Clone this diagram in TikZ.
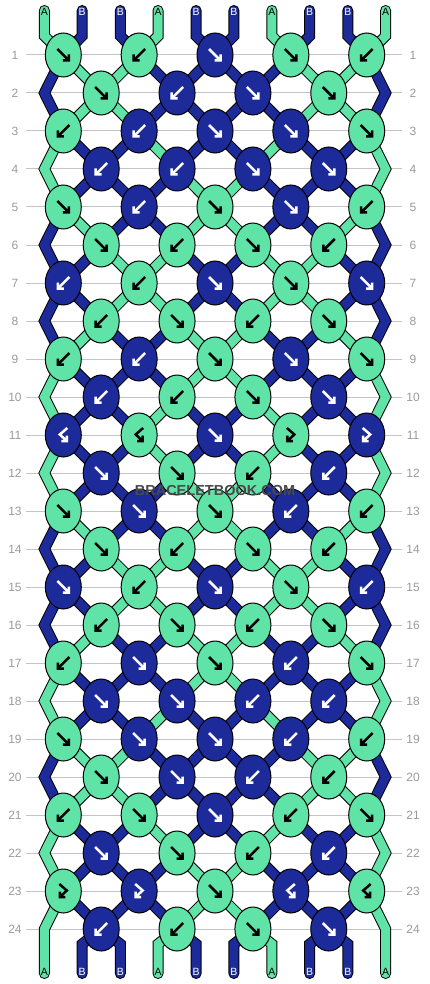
\documentclass[tikz,border=0pt]{standalone}
\usepackage{fontspec}
\setsansfont{Liberation Sans}
\usetikzlibrary{shapes.geometric}

\definecolor{colA}{HTML}{5FE3A6}
\definecolor{colB}{HTML}{1C2A9A}
\definecolor{rowgrey}{HTML}{9A9A9A}
\definecolor{linegrey}{HTML}{C4C4C4}
\definecolor{markgrey}{HTML}{4A4A4A}

\pgfdeclarelayer{grid}
\pgfdeclarelayer{threads}
\pgfsetlayers{grid,threads,main}

\def\strx{{44.4,82.2,120.3,158.0,196.1,233.9,271.9,309.7,347.8,385.6}}
\def\knotrows{{f,b,f,f,b},{f,b,f,f},{b,b,f,f,f},{b,b,f,f},
  {f,b,f,f,b},{f,b,f,b},{b,b,f,f,f},{b,f,b,f},
  {b,b,f,f,f},{b,b,f,f},{bf,bf,f,fb,fb},{f,f,b,b},
  {f,f,f,b,b},{f,b,f,b},{f,b,f,f,b},{b,f,b,f},
  {b,f,f,b,f},{f,f,b,b},{f,f,f,b,b},{f,f,b,b},
  {b,f,f,b,f},{f,f,b,b},{fb,fb,f,bf,bf},{b,b,f,f}}
\def\pickf{L}\def\pickb{R}\def\pickfb{L}\def\pickbf{R}
\def\swapf{1}\def\swapb{1}\def\swapfb{0}\def\swapbf{0}

\begin{document}
\begin{tikzpicture}[x=1pt, y=-1pt,
    knotA/.style={ellipse, draw=black, line width=1pt, fill=colA, minimum width=36pt, minimum height=44pt, inner sep=0pt},
    knotB/.style={knotA, fill=colB},
    glyphA/.style={black},
    glyphB/.style={white},
    threadA/.style={line width=1pt, double=colA, double distance=9pt, line join=miter, line cap=round},
    threadB/.style={threadA, double=colB},
    labA/.style={font=\sffamily\fontsize{10.5}{10.5}\selectfont, text=black, inner sep=0pt},
    labB/.style={labA, text=white},
    rownum/.style={font=\sffamily\fontsize{12}{12}\selectfont, text=rowgrey, inner sep=0pt, minimum width=22pt},
    pics/arrf/.style={code={\draw[line width=2.5pt, line join=miter] (-6,-6) -- (5.5,5.5) (5.5,-0.5) -- (5.5,5.5) -- (-0.5,5.5);}},
    pics/arrb/.style={code={\draw[line width=2.5pt, line join=miter] (6,-6) -- (-5.5,5.5) (-5.5,-0.5) -- (-5.5,5.5) -- (0.5,5.5);}},
    pics/arrfb/.style={code={\draw[line width=2.5pt, line join=miter] (-4,-7) -- (3.5,-0.5) -- (-3.5,6) (-3.5,0.5) -- (-3.5,6) -- (2,6);}},
    pics/arrbf/.style={code={\draw[line width=2.5pt, line join=miter] (4,-7) -- (-3.5,-0.5) -- (3.5,6) (3.5,0.5) -- (3.5,6) -- (-2,6);}}]
  \useasboundingbox (0,0) rectangle (430,984);

  \begin{pgfonlayer}{grid}
  \foreach \row in {1,...,24} {
    \pgfmathsetmacro\yy{55+38*(\row-1)}
    \node[rownum] (nl-\row) at (15,\yy) {\row};
    \node[rownum] (nr-\row) at (413,\yy) {\row};
    \draw[linegrey, line width=1pt] (nl-\row.east) -- (nr-\row.west);
  }
  \end{pgfonlayer}

  \foreach \lbl [count=\pos] in {A,B,B,A,B,B,A,B,B,A} {
    \pgfmathsetmacro\xx{\strx[\pos-1]}
    \coordinate (tt-\pos) at (\xx,10.5);
    \coordinate (tb-\pos) at (\xx,36);
    \coordinate (bb-\pos) at (\xx,944);
    \coordinate (bt-\pos) at (\xx,973.5);
    \node[lab\lbl] (lt-\pos) at (\xx,12) {\lbl};
    \expandafter\xdef\csname st\pos\endcsname{\lbl}
    \expandafter\xdef\csname pth\pos\endcsname{(tt-\pos) -- (tb-\pos)}
  }

  \foreach \kinds [count=\row] in \knotrows {
    \pgfmathsetmacro\yy{55+38*(\row-1)}
    \pgfmathtruncatemacro\odd{mod(\row,2)}
    \ifnum\odd=0
      \coordinate (e-\row-1) at (44.4,\yy);
      \coordinate (e-\row-10) at (385.6,\yy);
      \expandafter\xdef\csname pth1\endcsname{\csname pth1\endcsname\space -- (e-\row-1)}
      \expandafter\xdef\csname pth10\endcsname{\csname pth10\endcsname\space -- (e-\row-10)}
    \fi
    \foreach \kind [count=\kn] in \kinds {
      \ifnum\odd=1
        \pgfmathtruncatemacro\lp{2*\kn-1}
        \pgfmathsetmacro\xx{63.3+75.85*(\kn-1)}
      \else
        \pgfmathtruncatemacro\lp{2*\kn}
        \pgfmathsetmacro\xx{101.2+75.85*(\kn-1)}
      \fi
      \pgfmathtruncatemacro\rp{\lp+1}
      \edef\colL{\csname st\lp\endcsname}
      \edef\colR{\csname st\rp\endcsname}
      \edef\side{\csname pick\kind\endcsname}
      \edef\kc{\csname col\side\endcsname}
      \edef\tmp{\noexpand\node[knot\kc] (k-\row-\kn) at (\xx,\yy) {};
        \noexpand\pic[glyph\kc] at (k-\row-\kn.center) {arr\kind};}
      \tmp
      \begin{pgfonlayer}{threads}
        \edef\tmp{\noexpand\draw[thread\colL] \csname pth\lp\endcsname\space -- (k-\row-\kn.center);
          \noexpand\draw[thread\colR] \csname pth\rp\endcsname\space -- (k-\row-\kn.center);}
        \tmp
      \end{pgfonlayer}
      \expandafter\xdef\csname pth\lp\endcsname{(k-\row-\kn.center)}
      \expandafter\xdef\csname pth\rp\endcsname{(k-\row-\kn.center)}
      \ifnum\csname swap\kind\endcsname=1
        \expandafter\xdef\csname st\lp\endcsname{\colR}
        \expandafter\xdef\csname st\rp\endcsname{\colL}
      \fi
    }
  }

  \foreach \pos in {1,...,10} {
    \edef\clr{\csname st\pos\endcsname}
    \begin{pgfonlayer}{threads}
      \edef\tmp{\noexpand\draw[thread\clr] \csname pth\pos\endcsname\space -- (bb-\pos) -- (bt-\pos);}
      \tmp
    \end{pgfonlayer}
    \node[lab\clr] (lb-\pos) at (\strx[\pos-1],972) {\clr};
  }

  \node[font=\sffamily\bfseries\fontsize{14.5}{14.5}\selectfont, text=markgrey] (mark) at (215,491) {BRACELETBOOK.COM};
\end{tikzpicture}
\end{document}
